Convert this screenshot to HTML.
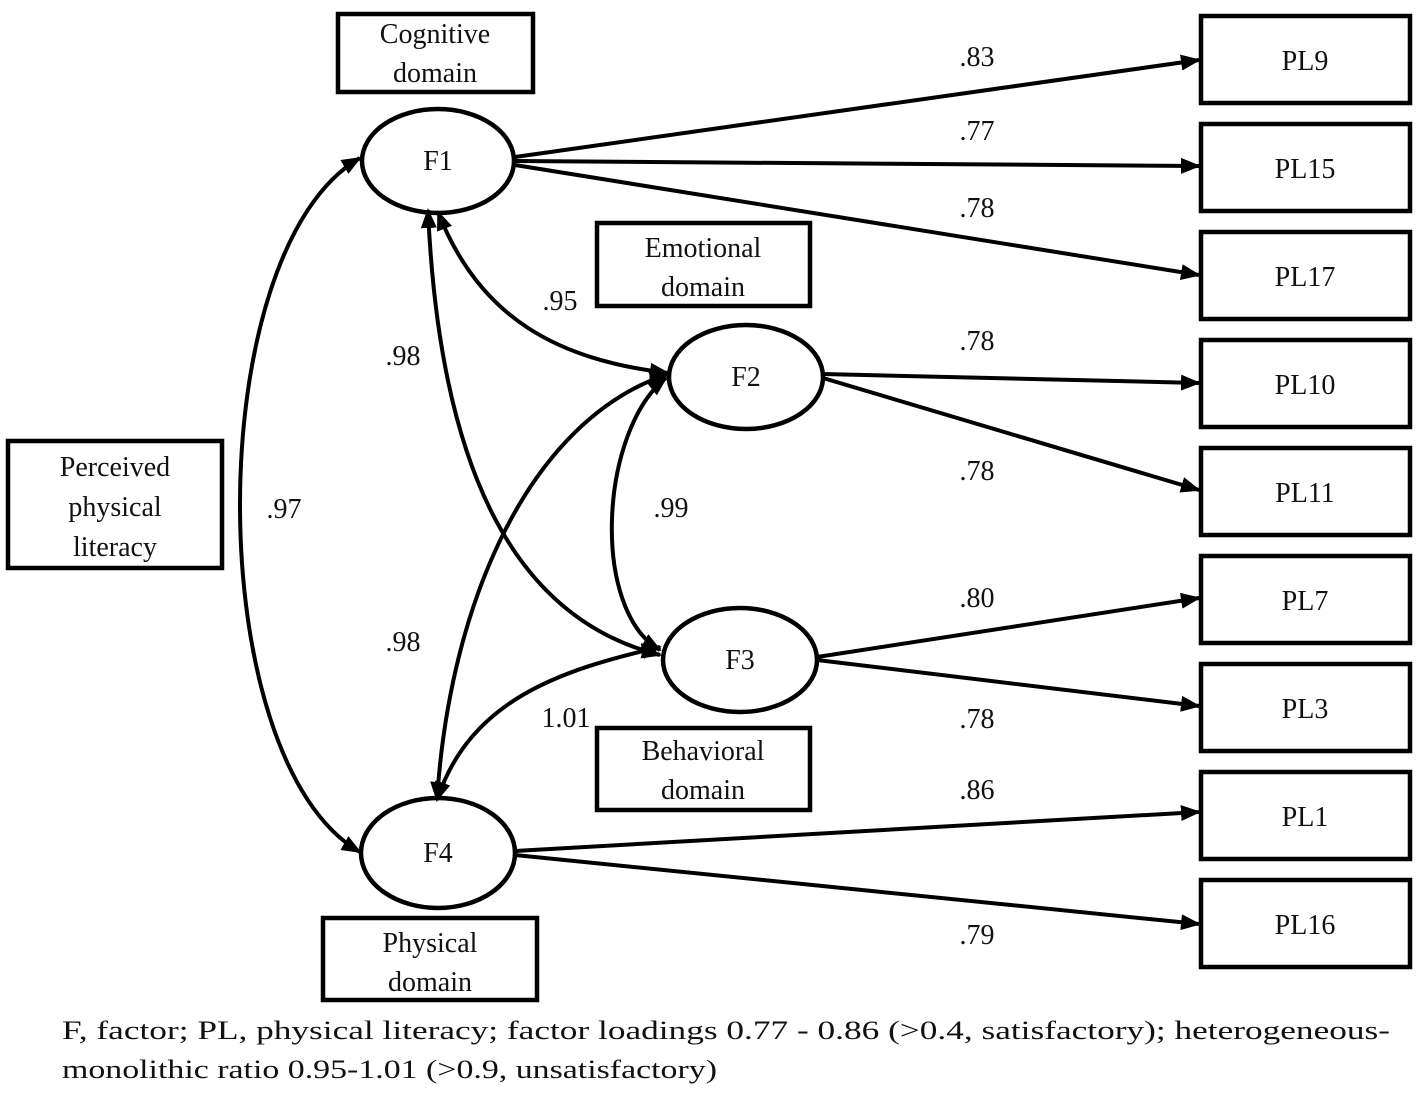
<!DOCTYPE html>
<html><head><meta charset="utf-8"><style>
html,body{margin:0;padding:0;background:#fff;}
svg{display:block;}
text{font-family:"Liberation Serif",serif;fill:#111;}
</style></head><body>
<svg width="1419" height="1098" viewBox="0 0 1419 1098" xmlns="http://www.w3.org/2000/svg">
<defs>
<marker id="a" viewBox="0 0 10 10" refX="9" refY="5" markerWidth="5" markerHeight="5" orient="auto-start-reverse" markerUnits="strokeWidth">
<path d="M0,1 L10,5 L0,9 z" fill="#000"/></marker>
</defs>
<g fill="none" stroke="#000" stroke-width="4.5">
<!-- boxes -->
<rect x="338" y="14" width="195" height="78"/>
<rect x="597" y="223" width="213" height="83"/>
<rect x="597" y="728" width="213" height="82"/>
<rect x="323" y="918" width="214" height="82"/>
<rect x="8" y="441" width="214" height="127"/>
<rect x="1201" y="16" width="209" height="87"/>
<rect x="1201" y="124" width="209" height="87"/>
<rect x="1201" y="232" width="209" height="87"/>
<rect x="1201" y="340" width="209" height="87"/>
<rect x="1201" y="448" width="209" height="87"/>
<rect x="1201" y="556" width="209" height="87"/>
<rect x="1201" y="664" width="209" height="87"/>
<rect x="1201" y="772" width="209" height="87"/>
<rect x="1201" y="880" width="209" height="87"/>
<!-- ellipses -->
<ellipse cx="438" cy="161" rx="76" ry="52"/>
<ellipse cx="746" cy="377" rx="77" ry="52"/>
<ellipse cx="740" cy="660" rx="77" ry="52"/>
<ellipse cx="438" cy="853" rx="77" ry="55"/>
</g>
<g fill="none" stroke="#000" stroke-width="4" marker-end="url(#a)">
<path d="M515,157 L1199,60"/>
<path d="M515,161 L1199,166"/>
<path d="M515,165 L1199,275"/>
<path d="M823,374 L1199,383"/>
<path d="M823,378 L1199,490"/>
<path d="M817,657 L1199,598"/>
<path d="M817,660 L1199,706"/>
<path d="M515,851 L1199,812"/>
<path d="M515,855 L1199,924"/>
</g>
<g fill="none" stroke="#000" stroke-width="4" marker-start="url(#a)" marker-end="url(#a)">
<path d="M360,158 C200,250 200,760 360,852"/>
<path d="M428,210 C440,480 520,620 660,655"/>
<path d="M438,212 C480,320 560,360 668,373"/>
<path d="M668,374 C530,420 450,600 437,800"/>
<path d="M666,378 C600,430 590,610 660,650"/>
<path d="M437,800 C470,700 560,670 660,647"/>
</g>
<g font-size="28" text-anchor="middle">
<text x="435" y="43">Cognitive</text><text x="435" y="82">domain</text>
<text x="703" y="257">Emotional</text><text x="703" y="296">domain</text>
<text x="703" y="760">Behavioral</text><text x="703" y="799">domain</text>
<text x="430" y="952">Physical</text><text x="430" y="991">domain</text>
<text x="115" y="476">Perceived</text><text x="115" y="516">physical</text><text x="115" y="556">literacy</text>
<text x="438" y="170">F1</text><text x="746" y="386">F2</text><text x="740" y="669">F3</text><text x="438" y="862">F4</text>
<text x="1305" y="70">PL9</text><text x="1305" y="178">PL15</text><text x="1305" y="286">PL17</text>
<text x="1305" y="394">PL10</text><text x="1305" y="502">PL11</text><text x="1305" y="610">PL7</text>
<text x="1305" y="718">PL3</text><text x="1305" y="826">PL1</text><text x="1305" y="934">PL16</text>
<text x="977" y="66">.83</text><text x="977" y="140">.77</text><text x="977" y="217">.78</text>
<text x="977" y="350">.78</text><text x="977" y="480">.78</text><text x="977" y="607">.80</text>
<text x="977" y="728">.78</text><text x="977" y="799">.86</text><text x="977" y="944">.79</text>
<text x="560" y="310">.95</text><text x="403" y="365">.98</text><text x="284" y="518">.97</text>
<text x="671" y="517">.99</text><text x="403" y="651">.98</text><text x="566" y="727">1.01</text>
</g>
<g font-size="26">
<text x="62" y="1039" textLength="1328" lengthAdjust="spacingAndGlyphs">F, factor;  PL, physical literacy;  factor loadings 0.77 - 0.86 (&gt;0.4,  satisfactory);  heterogeneous-</text>
<text x="62" y="1078" textLength="655" lengthAdjust="spacingAndGlyphs">monolithic ratio 0.95-1.01 (&gt;0.9,  unsatisfactory)</text>
</g>
</svg>
</body></html>
